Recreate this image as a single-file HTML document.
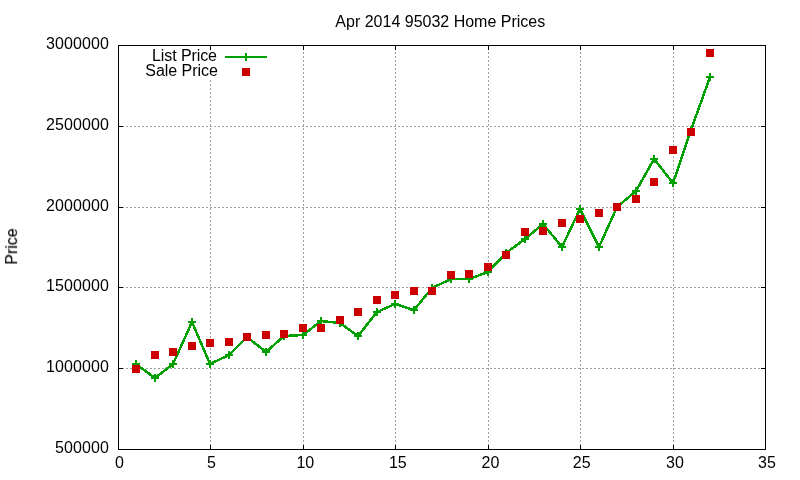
<!DOCTYPE html>
<html><head><meta charset="utf-8"><title>Apr 2014 95032 Home Prices</title>
<style>
html,body{margin:0;padding:0;background:#fff;}
body{width:800px;height:480px;overflow:hidden;}
svg{display:block;}
g.t{filter:grayscale(1);}
text{font-family:"Liberation Sans",Arial,Helvetica,sans-serif;font-size:16px;fill:#000;}
</style></head><body>
<svg width="800" height="480" viewBox="0 0 800 480">
<rect x="0" y="0" width="800" height="480" fill="#ffffff"/>
<g stroke="#a0a0a0" stroke-width="1" stroke-dasharray="2 2" fill="none" shape-rendering="crispEdges">
<line x1="118" y1="368.5" x2="766" y2="368.5"/>
<line x1="118" y1="287.5" x2="766" y2="287.5"/>
<line x1="118" y1="207.5" x2="766" y2="207.5"/>
<line x1="118" y1="126.5" x2="766" y2="126.5"/>
<line x1="210.5" y1="450" x2="210.5" y2="45"/>
<line x1="303.5" y1="450" x2="303.5" y2="45"/>
<line x1="395.5" y1="450" x2="395.5" y2="45"/>
<line x1="488.5" y1="450" x2="488.5" y2="45"/>
<line x1="580.5" y1="450" x2="580.5" y2="45"/>
<line x1="673.5" y1="450" x2="673.5" y2="45"/>
</g>
<rect x="140" y="50" width="132" height="29.5" fill="#ffffff"/>
<g stroke="#000" stroke-width="1" fill="none" shape-rendering="crispEdges">
<line x1="118" y1="449.5" x2="123" y2="449.5"/><line x1="761" y1="449.5" x2="766" y2="449.5"/>
<line x1="118" y1="368.5" x2="123" y2="368.5"/><line x1="761" y1="368.5" x2="766" y2="368.5"/>
<line x1="118" y1="287.5" x2="123" y2="287.5"/><line x1="761" y1="287.5" x2="766" y2="287.5"/>
<line x1="118" y1="207.5" x2="123" y2="207.5"/><line x1="761" y1="207.5" x2="766" y2="207.5"/>
<line x1="118" y1="126.5" x2="123" y2="126.5"/><line x1="761" y1="126.5" x2="766" y2="126.5"/>
<line x1="118" y1="45.5" x2="123" y2="45.5"/><line x1="761" y1="45.5" x2="766" y2="45.5"/>
<line x1="118.5" y1="450" x2="118.5" y2="445"/><line x1="118.5" y1="45" x2="118.5" y2="50"/>
<line x1="210.5" y1="450" x2="210.5" y2="445"/><line x1="210.5" y1="45" x2="210.5" y2="50"/>
<line x1="303.5" y1="450" x2="303.5" y2="445"/><line x1="303.5" y1="45" x2="303.5" y2="50"/>
<line x1="395.5" y1="450" x2="395.5" y2="445"/><line x1="395.5" y1="45" x2="395.5" y2="50"/>
<line x1="488.5" y1="450" x2="488.5" y2="445"/><line x1="488.5" y1="45" x2="488.5" y2="50"/>
<line x1="580.5" y1="450" x2="580.5" y2="445"/><line x1="580.5" y1="45" x2="580.5" y2="50"/>
<line x1="673.5" y1="450" x2="673.5" y2="445"/><line x1="673.5" y1="45" x2="673.5" y2="50"/>
<line x1="765.5" y1="450" x2="765.5" y2="445"/><line x1="765.5" y1="45" x2="765.5" y2="50"/>
<rect x="118.5" y="45.5" width="647" height="404"/>
</g>
<g class="t" text-anchor="end" style="letter-spacing:0.1px">
<text x="109.1" y="452.9">500000</text>
<text x="109.1" y="371.9">1000000</text>
<text x="109.1" y="290.9">1500000</text>
<text x="109.1" y="210.9">2000000</text>
<text x="109.1" y="129.9">2500000</text>
<text x="109.1" y="48.9">3000000</text>
</g><g class="t" text-anchor="middle">
<text x="119.4" y="468">0</text>
<text x="211.4" y="468">5</text>
<text x="305.3" y="468">10</text>
<text x="397.8" y="468">15</text>
<text x="490.4" y="468">20</text>
<text x="581.7" y="468">25</text>
<text x="675.0" y="468">30</text>
<text x="766.9" y="468">35</text>
<text x="440.3" y="26.6">Apr 2014 95032 Home Prices</text>
<text transform="translate(17.1,246.5) rotate(-90)" stroke="#000" stroke-width="0.1">Price</text>
</g>
<g class="t" text-anchor="end"><text x="216.9" y="60.7" style="letter-spacing:-0.09px">List Price</text><text x="217.8" y="75.9" style="letter-spacing:-0.05px">Sale Price</text></g>
<g stroke="#00a000" stroke-width="2" fill="none"><line x1="225" y1="57" x2="267" y2="57"/><line x1="246" y1="53" x2="246" y2="61"/></g>
<rect x="242" y="68" width="8" height="8" fill="#cc0000"/>
<g stroke="#00a000" stroke-width="2" fill="none" stroke-linejoin="round" shape-rendering="crispEdges">
<polyline stroke-width="2.5" points="136,364 155,378 173,364 192,322 210,364 229,355 247,337 266,352 284,336 303,335 321,321 340,323 358,336 377,312 395,304 414,310 432,288 451,279 469,279 488,272 506,253 525,239 543,224 562,247 580,209 599,247 617,207 636,191 654,159 673,183 691,130 710,77"/>
<path d="M132,364H140M136,360V368M151,378H159M155,374V382M169,364H177M173,360V368M188,322H196M192,318V326M206,364H214M210,360V368M225,355H233M229,351V359M243,337H251M247,333V341M262,352H270M266,348V356M280,336H288M284,332V340M299,335H307M303,331V339M317,321H325M321,317V325M336,323H344M340,319V327M354,336H362M358,332V340M373,312H381M377,308V316M391,304H399M395,300V308M410,310H418M414,306V314M428,288H436M432,284V292M447,279H455M451,275V283M465,279H473M469,275V283M484,272H492M488,268V276M502,253H510M506,249V257M521,239H529M525,235V243M539,224H547M543,220V228M558,247H566M562,243V251M576,209H584M580,205V213M595,247H603M599,243V251M613,207H621M617,203V211M632,191H640M636,187V195M650,159H658M654,155V163M669,183H677M673,179V187M687,130H695M691,126V134M706,77H714M710,73V81"/>
</g>
<g fill="#cc0000">
<rect x="132" y="365" width="8" height="8"/>
<rect x="151" y="351" width="8" height="8"/>
<rect x="169" y="348" width="8" height="8"/>
<rect x="188" y="342" width="8" height="8"/>
<rect x="206" y="339" width="8" height="8"/>
<rect x="225" y="338" width="8" height="8"/>
<rect x="243" y="333" width="8" height="8"/>
<rect x="262" y="331" width="8" height="8"/>
<rect x="280" y="330" width="8" height="8"/>
<rect x="299" y="324" width="8" height="8"/>
<rect x="317" y="324" width="8" height="8"/>
<rect x="336" y="316" width="8" height="8"/>
<rect x="354" y="308" width="8" height="8"/>
<rect x="373" y="296" width="8" height="8"/>
<rect x="391" y="291" width="8" height="8"/>
<rect x="410" y="287" width="8" height="8"/>
<rect x="428" y="287" width="8" height="8"/>
<rect x="447" y="271" width="8" height="8"/>
<rect x="465" y="270" width="8" height="8"/>
<rect x="484" y="263" width="8" height="8"/>
<rect x="502" y="251" width="8" height="8"/>
<rect x="521" y="228" width="8" height="8"/>
<rect x="539" y="227" width="8" height="8"/>
<rect x="558" y="219" width="8" height="8"/>
<rect x="576" y="215" width="8" height="8"/>
<rect x="595" y="209" width="8" height="8"/>
<rect x="613" y="203" width="8" height="8"/>
<rect x="632" y="195" width="8" height="8"/>
<rect x="650" y="178" width="8" height="8"/>
<rect x="669" y="146" width="8" height="8"/>
<rect x="687" y="128" width="8" height="8"/>
<rect x="706" y="49" width="8" height="8"/>
</g>
</svg></body></html>
